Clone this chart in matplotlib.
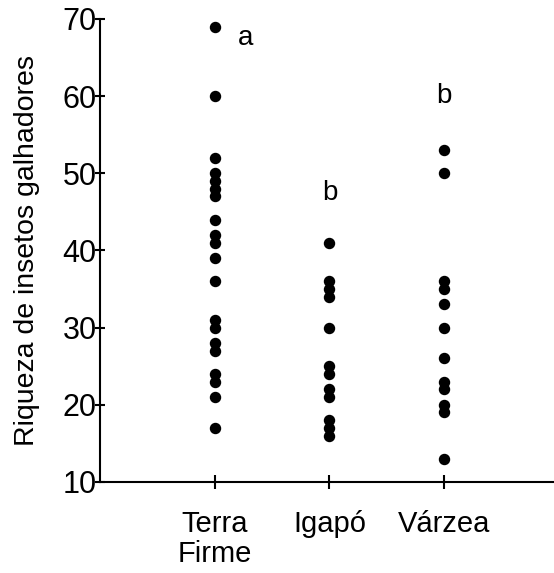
import matplotlib.pyplot as plt

plt.rcParams['font.family'] = ['Liberation Sans', 'DejaVu Sans']

categories = ["Terra\nFirme", "Igapó", "Várzea"]
terra_firme = [69, 60, 52, 50, 49, 48, 47, 44, 42, 41, 39, 36, 31, 30, 28, 27, 24, 23, 21, 17]
igapo = [41, 36, 35, 34, 30, 25, 24, 22, 21, 18, 17, 16]
varzea = [53, 50, 36, 35, 33, 30, 26, 23, 22, 20, 19, 13]
letters = ["a", "b", "b"]
letter_y = [67.5, 47.5, 60]

fig = plt.figure(figsize=(5.54, 5.73), dpi=100)
ax = fig.add_axes([0.181, 0.159, 0.819, 0.808])

for i, vals in enumerate([terra_firme, igapo, varzea]):
    ax.scatter([i + 1] * len(vals), vals, s=52, color="black", zorder=3)

ax.text(1 + 0.27, letter_y[0], letters[0], fontsize=20, ha="center", va="center")
for i in (1, 2):
    ax.text(i + 1, letter_y[i], letters[i], fontsize=20, ha="center", va="center")

ax.set_xlim(0, 3.96)
ax.set_ylim(10, 70)
ax.set_yticks(range(10, 71, 10))
ax.set_xticks([1, 2, 3])
ax.set_xticklabels(categories, fontsize=21, linespacing=1.1)
ax.tick_params(axis="y", direction="inout", length=7, width=1.5, labelsize=22, pad=-1)
ax.tick_params(axis="x", direction="inout", length=10, width=1.5, pad=15)
ax.set_ylabel("Riqueza de insetos galhadores", fontsize=20.5, labelpad=16)

for s in ("top", "right"):
    ax.spines[s].set_visible(False)
for s in ("left", "bottom"):
    ax.spines[s].set_linewidth(1.5)

fig.savefig("out.png", dpi=100)
